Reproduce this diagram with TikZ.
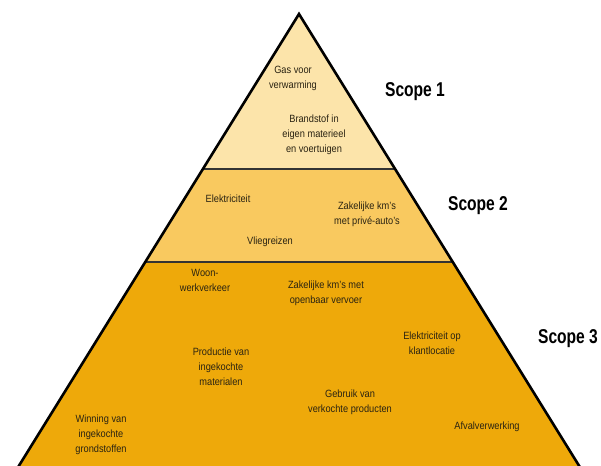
\documentclass[tikz,border=0pt]{standalone}
\usepackage{fontspec}
\setmainfont[FakeStretch=0.88]{Liberation Sans}
\newfontfamily\scopefont[FakeStretch=0.78]{Liberation Sans}
\begin{document}
\begin{tikzpicture}[x=1pt,y=-1pt,
  lbl/.style={align=center,font=\fontsize{10.5}{15}\selectfont,text=txtc,inner sep=0pt},
  scopelbl/.style={font=\scopefont\fontsize{20}{22}\selectfont\bfseries,text=black,inner sep=0pt},
  edge/.style={line width=2.6pt,line join=miter},
  sep/.style={line width=1.2pt,draw=black!80}]
\definecolor{topc}{HTML}{FCE4AA}
\definecolor{midc}{HTML}{F9C95F}
\definecolor{botc}{HTML}{EEA90A}
\definecolor{txtc}{HTML}{2A2312}
\useasboundingbox (0,0) rectangle (601,465);
\clip (0,0) rectangle (601,465);
\coordinate (apex) at (299,14);
\coordinate (l1) at (202.9,169);
\coordinate (r1) at (395.1,169);
\coordinate (l2) at (145.2,262);
\coordinate (r2) at (452.8,262);
\coordinate (l3) at (16.3,470);
\coordinate (r3) at (581.7,470);
\fill[topc] (apex) -- (r1) -- (l1) -- cycle;
\fill[midc] (l1) -- (r1) -- (r2) -- (l2) -- cycle;
\fill[botc] (l2) -- (r2) -- (r3) -- (l3) -- cycle;
\draw[sep] (l1) -- (r1);
\draw[sep] (l2) -- (r2);
\draw[edge] (l3) -- (apex) -- (r3);
% scope 1
\node[lbl] (gas) at (293,78) {Gas voor\\verwarming};
\node[lbl] (brand) at (314,135) {Brandstof in\\eigen materieel\\en voertuigen};
% scope 2
\node[lbl] (elek) at (228,199) {Elektriciteit};
\node[lbl] (zakp) at (367,214) {Zakelijke km's\\met privé-auto's};
\node[lbl] (vlieg) at (270,242) {Vliegreizen};
% scope 3
\node[lbl] (woon) at (205,280) {Woon-\\werkverkeer};
\node[lbl] (zako) at (326,293) {Zakelijke km's met\\openbaar vervoer};
\node[lbl] (elko) at (432,343) {Elektriciteit op\\klantlocatie};
\node[lbl] (prod) at (221,367) {Productie van\\ingekochte\\materialen};
\node[lbl] (gebr) at (350,402) {Gebruik van\\verkochte producten};
\node[lbl] (afval) at (487,427) {Afvalverwerking};
\node[lbl] (winn) at (101,435) {Winning van\\ingekochte\\grondstoffen};
% scope labels
\node[scopelbl] (s1) at (415,92) {Scope 1};
\node[scopelbl] (s2) at (478,206) {Scope 2};
\node[scopelbl] (s3) at (568,339) {Scope 3};
\end{tikzpicture}
\end{document}
